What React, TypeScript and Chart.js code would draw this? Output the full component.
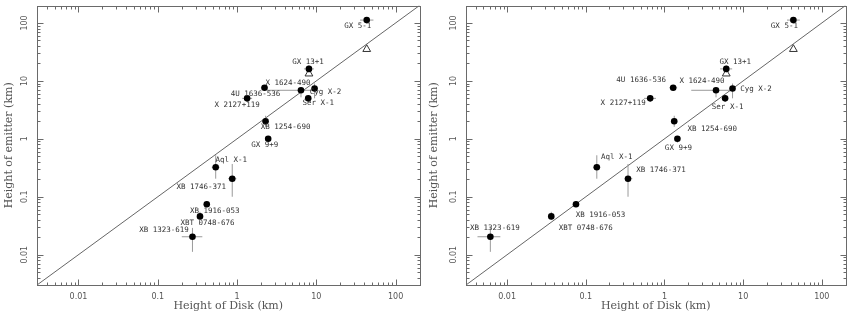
import React, { useEffect, useRef } from "react";
import { Chart, registerables } from "chart.js";

Chart.register(...registerables);

// ---------- data ----------
const sources = [
  "GX 5-1", "GX 13+1", "X 1624-490", "4U 1636-536", "X 2127+119", "Cyg X-2", "Ser X-1",
  "XB 1254-690", "GX 9+9", "Aql X-1", "XB 1746-371", "XB 1916-053", "XBT 0748-676", "XB 1323-619",
];

// Height of emitter (km), same in both panels
const emitter = [112, 16.1, 6.88, 7.6, 4.99, 7.38, 4.99, 2.01, 1.0, 0.324, 0.205, 0.0741, 0.0458, 0.0204];
const emitterLo = [112, 14.0, 5.2, 6.9, 4.4, 5.0, 4.4, 1.61, 0.86, 0.205, 0.1, 0.066, 0.040, 0.0112];
const emitterHi = [112, 18.5, 6.88, 8.4, 5.7, 9.0, 5.6, 2.5, 1.12, 0.52, 0.368, 0.084, 0.055, 0.029];

// Left panel: Height of disk (km)
const diskA = [43.2, 8.07, 6.4, 2.22, 1.34, 9.5, 7.9, 2.29, 2.47, 0.538, 0.87, 0.415, 0.341, 0.274];
const diskALo = [35.6, 6.98, 2.4, 2.0, 1.16, 9.5, 7.9, 2.29, 2.47, 0.48, 0.77, 0.415, 0.341, 0.201];
const diskAHi = [52.5, 9.3, 9.0, 2.45, 1.55, 9.5, 7.9, 2.29, 2.47, 0.6, 0.98, 0.415, 0.341, 0.365];

// Right panel: Height of disk (km)
const diskB = [43.5, 6.1, 4.52, 1.29, 0.658, 7.33, 5.9, 1.33, 1.46, 0.138, 0.344, 0.075, 0.0364, 0.00612];
const diskBLo = [36.1, 5.1, 2.19, 1.15, 0.55, 7.33, 5.9, 1.33, 1.46, 0.124, 0.31, 0.075, 0.0364, 0.0042];
const diskBHi = [52.5, 7.25, 7.18, 1.45, 0.78, 7.33, 5.9, 1.33, 1.46, 0.153, 0.39, 0.075, 0.0364, 0.0082];

// Open triangles
const triEmitter = [35.2, 13.3];
const triDiskA = [43.2, 8.07];
const triDiskB = [43.5, 6.1];

// Axes
const axisMin = 0.003;
const axisMax = 200;
const majorTicks = [0.01, 0.1, 1, 10, 100];
const tickLabels = ["0.01", "0.1", "1", "10", "100"];

// label placement (pixel offset of label centre from its point)
const labelOffsetsA: [number, number][] = [
  [-9, 6], [-1, -7], [-13, -7], [-9, 6.5], [-10, 6.5], [11, 4], [10, 4.5],
  [20, 6], [-3.5, 6.5], [15.5, -7.5], [-31, 8.5], [8, 6.5], [7.5, 6.5], [-28.5, -6.5],
];
const labelOffsetsB: [number, number][] = [
  [-9, 6], [9, -7], [-14, -9.5], [-32, -7.5], [-27, 5], [23.5, 1], [2.5, 8.5],
  [38, 7.5], [1, 9.5], [20, -10], [33, -8.5], [24.5, 10.5], [34.5, 11.5], [4.5, -9],
];

const AXIS_COLOR = "#6a6a6a";
const TEXT_COLOR = "#555";

function errorSegments(x: number[], xLo: number[], xHi: number[]) {
  const pts: { x: number; y: number | null }[] = [];
  for (let i = 0; i < x.length; i++) {
    if (xLo[i] !== xHi[i]) {
      pts.push({ x: xLo[i], y: emitter[i] }, { x: xHi[i], y: emitter[i] }, { x: x[i], y: null });
    }
    if (emitterLo[i] !== emitterHi[i]) {
      pts.push({ x: x[i], y: emitterLo[i] }, { x: x[i], y: emitterHi[i] }, { x: x[i], y: null });
    }
  }
  return pts;
}

function makeFramePlugin(offsets: [number, number][]) {
  return {
    id: "frameAndLabels",
    afterDraw(chart: any) {
      const { ctx, chartArea: a, scales } = chart;
      const xs = scales.x;
      const ys = scales.y;
      ctx.save();
      ctx.strokeStyle = AXIS_COLOR;
      ctx.lineWidth = 1;
      const L = Math.round(a.left) + 0.5;
      const R = Math.round(a.right) + 0.5;
      const T = Math.round(a.top) + 0.5;
      const B = Math.round(a.bottom) + 0.5;
      ctx.strokeRect(L, T, R - L, B - T);
      ctx.beginPath();
      for (let e = -3; e <= 2; e++) {
        for (let m = 1; m <= 9; m++) {
          const v = m * Math.pow(10, e);
          if (v <= axisMin * 1.001 || v >= axisMax * 0.999) continue;
          const len = m === 1 ? 6 : 3;
          const px = Math.round(xs.getPixelForValue(v)) + 0.5;
          ctx.moveTo(px, B); ctx.lineTo(px, B - len);
          ctx.moveTo(px, T); ctx.lineTo(px, T + len);
          const py = Math.round(ys.getPixelForValue(v)) + 0.5;
          ctx.moveTo(L, py); ctx.lineTo(L + len, py);
          ctx.moveTo(R, py); ctx.lineTo(R - len, py);
        }
      }
      ctx.stroke();

      // tick labels
      ctx.fillStyle = TEXT_COLOR;
      ctx.font = "8px 'DejaVu Sans'";
      ctx.textAlign = "center";
      ctx.textBaseline = "middle";
      majorTicks.forEach((v, i) => {
        const px = xs.getPixelForValue(v);
        ctx.fillText(tickLabels[i], px, a.bottom + 11.5);
        const py = ys.getPixelForValue(v);
        ctx.save();
        ctx.translate(a.left - 12, py);
        ctx.rotate(-Math.PI / 2);
        ctx.fillText(tickLabels[i], 0, 0);
        ctx.restore();
      });

      // source labels
      const meta = chart.getDatasetMeta(0);
      ctx.fillStyle = "#333";
      ctx.font = "7.5px 'DejaVu Sans Mono'";
      meta.data.forEach((el: any, i: number) => {
        const [dx, dy] = offsets[i];
        ctx.fillText(sources[i], el.x + dx, el.y + dy);
      });
      ctx.restore();
    },
  };
}

function Panel(props: {
  disk: number[]; diskLo: number[]; diskHi: number[]; triDisk: number[];
  offsets: [number, number][]; left: number; width: number; axisW: number; padRight: number;
}) {
  const ref = useRef<HTMLCanvasElement>(null);
  useEffect(() => {
    if (!ref.current) return;
    const { disk, diskLo, diskHi, triDisk, offsets, axisW, padRight } = props;
    const chart = new Chart(ref.current, {
      type: "scatter",
      data: {
        datasets: [
          {
            data: disk.map((d, i) => ({ x: d, y: emitter[i] })),
            pointRadius: 3.3, backgroundColor: "#000", borderWidth: 0, pointStyle: "circle",
            order: 0,
          },
          {
            data: triDisk.map((d, i) => ({ x: d, y: triEmitter[i] })),
            pointStyle: "triangle", pointRadius: 4.5, backgroundColor: "rgba(0,0,0,0)",
            borderColor: "#333", borderWidth: 1, order: 1,
          },
          {
            data: errorSegments(disk, diskLo, diskHi),
            showLine: true, spanGaps: false, borderColor: "#9a9a9a", borderWidth: 1, pointRadius: 0,
            order: 2,
          },
          {
            data: [{ x: axisMin, y: axisMin }, { x: axisMax, y: axisMax }],
            showLine: true, borderColor: "#666", borderWidth: 1, pointRadius: 0, order: 3,
          },
        ],
      } as any,
      options: {
        animation: false,
        responsive: false,
        devicePixelRatio: 1,
        events: [],
        layout: { padding: { top: 0, right: padRight, bottom: 0, left: 0 } },
        plugins: { legend: { display: false }, tooltip: { enabled: false } },
        scales: {
          x: {
            type: "logarithmic", min: axisMin, max: axisMax,
            grid: { display: false }, border: { display: false },
            ticks: { display: false },
            title: {
              display: true, text: "Height of Disk (km)", color: TEXT_COLOR,
              font: { family: "'DejaVu Serif'", size: 11 }, padding: { top: 0, bottom: 2.5 },
            },
            afterFit(s: any) { s.height = 30; },
          },
          y: {
            type: "logarithmic", min: axisMin, max: axisMax,
            grid: { display: false }, border: { display: false },
            ticks: { display: false },
            title: {
              display: true, text: "Height of emitter (km)", color: TEXT_COLOR,
              font: { family: "'DejaVu Serif'", size: 11 }, padding: { top: 3, bottom: 0 },
            },
            afterFit(s: any) { s.width = axisW; },
          },
        },
      } as any,
      plugins: [makeFramePlugin(offsets)],
    });
    return () => chart.destroy();
  }, []);
  return (
    <canvas
      ref={ref}
      width={props.width}
      height={315}
      style={{ position: "absolute", left: props.left, top: 0, width: props.width, height: 315 }}
    />
  );
}

export default function App() {
  return (
    <div style={{ position: "absolute", left: 0, top: 0, width: 851, height: 315, background: "#fff" }}>
      <Panel disk={diskA} diskLo={diskALo} diskHi={diskAHi} triDisk={triDiskA}
        offsets={labelOffsetsA} left={0} width={425} axisW={37} padRight={4} />
      <Panel disk={diskB} diskLo={diskBLo} diskHi={diskBHi} triDisk={triDiskB}
        offsets={labelOffsetsB} left={425} width={426} axisW={41} padRight={1} />
    </div>
  );
}
